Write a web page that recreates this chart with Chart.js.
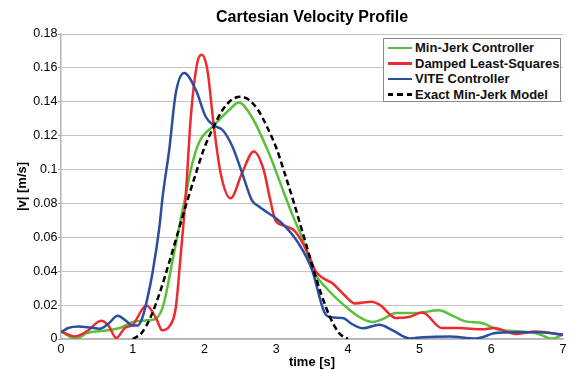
<!DOCTYPE html>
<html>
<head>
<meta charset="utf-8">
<script src="https://cdn.jsdelivr.net/npm/chart.js@4/dist/chart.umd.min.js"></script>
<style>
    html, body { margin: 0; padding: 0; background: #fff; }
    #wrap { position: relative; width: 570px; height: 370px; font-family: "Liberation Sans", Arial, sans-serif; }
    #legend {
        position: absolute; left: 383px; top: 38px; width: 178px; height: 64px;
        border: 1px solid #8a8a8a; background: #fff; box-sizing: border-box; padding-top: 1px;
    }
    .legend-row { display: flex; align-items: center; height: 15.6px; font-weight: bold; font-size: 13px; color: #111; white-space: nowrap; }
    .legend-line { width: 24px; height: 2.5px; margin-left: 4px; margin-right: 3px; }
</style>
</head>
<body>
<div id="wrap">
    <canvas id="velocityChart" width="570" height="370"></canvas>
    <div id="legend"></div>
</div>
<script>
// --- Data (time in s, speed in m/s) ---
const seriesLabels = ['Min-Jerk Controller', 'Damped Least-Squares', 'VITE Controller', 'Exact Min-Jerk Model'];
const xTicks = [0, 1, 2, 3, 4, 5, 6, 7];
const yTicks = [0, 0.02, 0.04, 0.06, 0.08, 0.1, 0.12, 0.14, 0.16, 0.18];

const minJerkTime = [0, 0.1, 0.2, 0.36, 0.63, 0.82, 1.0, 1.19, 1.3, 1.42, 1.555, 1.67, 1.74, 1.81, 1.925, 2.13, 2.34, 2.48, 2.66, 2.895, 3.12, 3.22, 3.36, 3.52, 3.68, 4.0, 4.2, 4.35, 4.5, 4.67, 4.95, 5.27, 5.45, 5.64, 5.87, 6.1, 6.43, 6.66, 6.84, 7.0];
const minJerkVel = [0.0045, 0.002, 0.0, 0.0035, 0.005, 0.0065, 0.010, 0.011, 0.0115, 0.019, 0.046, 0.071, 0.085, 0.100, 0.116, 0.126, 0.135, 0.1396, 0.131, 0.110, 0.085, 0.074, 0.060, 0.040, 0.031, 0.018, 0.012, 0.010, 0.012, 0.0153, 0.0153, 0.017, 0.014, 0.0104, 0.0094, 0.0055, 0.0045, 0.003, 0.0002, 0.0025];

const dlsTime = [0, 0.19, 0.36, 0.56, 0.66, 0.77, 0.89, 1.0, 1.19, 1.325, 1.41, 1.51, 1.6, 1.67, 1.74, 1.81, 1.9, 1.962, 2.04, 2.13, 2.225, 2.364, 2.525, 2.687, 2.825, 2.918, 2.99, 3.1, 3.264, 3.45, 3.55, 3.65, 3.78, 3.95, 4.1, 4.33, 4.45, 4.67, 4.85, 5.04, 5.31, 5.55, 5.87, 6.04, 6.33, 6.62, 7.0];
const dlsVel = [0.0045, 0.0015, 0.0045, 0.0108, 0.008, 0.0006, 0.0065, 0.0084, 0.0197, 0.0124, 0.0051, 0.0074, 0.0183, 0.050, 0.085, 0.131, 0.163, 0.1677, 0.159, 0.126, 0.098, 0.083, 0.098, 0.1107, 0.100, 0.082, 0.070, 0.067, 0.0635, 0.050, 0.040, 0.036, 0.033, 0.026, 0.021, 0.022, 0.020, 0.0124, 0.013, 0.0157, 0.0065, 0.0065, 0.0057, 0.0065, 0.003, 0.0045, 0.0025];

const viteTime = [0, 0.1, 0.24, 0.4, 0.54, 0.66, 0.79, 0.9, 1.0, 1.07, 1.14, 1.21, 1.28, 1.37, 1.42, 1.51, 1.6, 1.717, 1.88, 2.02, 2.13, 2.25, 2.39, 2.525, 2.66, 2.756, 3.079, 3.31, 3.5, 3.67, 3.77, 3.93, 4.05, 4.21, 4.44, 4.63, 4.86, 5.04, 5.41, 5.78, 6.06, 6.33, 6.66, 7.0];
const viteVel = [0.004, 0.0065, 0.0074, 0.0068, 0.006, 0.009, 0.0137, 0.011, 0.008, 0.008, 0.0133, 0.025, 0.040, 0.0655, 0.085, 0.112, 0.145, 0.157, 0.147, 0.131, 0.126, 0.1235, 0.1136, 0.098, 0.082, 0.0783, 0.0684, 0.0566, 0.0409, 0.016, 0.0128, 0.0124, 0.009, 0.0063, 0.0084, 0.005, 0.0003, 0.001, 0.0015, 0.0003, 0.0035, 0.004, 0.004, 0.0025];

const modelTime = [1.0, 1.125, 1.25, 1.375, 1.5, 1.625, 1.75, 1.875, 2.0, 2.125, 2.25, 2.375, 2.5, 2.625, 2.75, 2.875, 3.0, 3.125, 3.25, 3.375, 3.5, 3.625, 3.75, 3.875, 4.0];
const modelVel = [0, 0.0036, 0.013, 0.027, 0.044, 0.062, 0.080, 0.097, 0.113, 0.125, 0.135, 0.141, 0.143, 0.141, 0.135, 0.125, 0.113, 0.097, 0.080, 0.062, 0.044, 0.027, 0.013, 0.0036, 0];

const lineColors = ['#5cbf3c', '#ee2a2e', '#2c4ea0', '#000000'];

// --- Helpers ---
function toPoints(times, values) {
    return times.map((t, i) => ({ x: t, y: values[i] }));
}

const FONT = '"Liberation Sans", Arial, sans-serif';

const datasets = [
    { label: seriesLabels[0], data: toPoints(minJerkTime, minJerkVel), borderColor: lineColors[0], order: 3 },
    { label: seriesLabels[1], data: toPoints(dlsTime, dlsVel), borderColor: lineColors[1], order: 2 },
    { label: seriesLabels[2], data: toPoints(viteTime, viteVel), borderColor: lineColors[2], order: 1 },
    { label: seriesLabels[3], data: toPoints(modelTime, modelVel), borderColor: lineColors[3], borderDash: [6, 3.5], order: 0 }
].map(ds => Object.assign({
    borderWidth: 2.5,
    pointRadius: 0,
    fill: false,
    cubicInterpolationMode: 'monotone'
}, ds));

const chart = new Chart(document.getElementById('velocityChart'), {
    type: 'line',
    data: { datasets: datasets },
    options: {
        responsive: false,
        animation: false,
        layout: { padding: { left: 0, right: 4, top: 0, bottom: 0 } },
        plugins: {
            legend: { display: false },
            tooltip: { enabled: false },
            title: {
                display: true,
                text: 'Cartesian Velocity Profile',
                fullSize: false,
                color: '#000',
                font: { family: FONT, size: 16, weight: 'bold' },
                padding: { top: 7.5, bottom: 7.3 }
            }
        },
        scales: {
            x: {
                type: 'linear',
                min: 0,
                max: 7,
                afterBuildTicks: axis => { axis.ticks = xTicks.map(v => ({ value: v })); },
                afterFit: axis => { axis.height = 31; },
                ticks: { color: '#000', padding: 3.5, font: { family: FONT, size: 12.5 } },
                grid: { drawOnChartArea: false, drawTicks: false },
                border: { display: true, color: '#b4b4b4', width: 1.5 },
                title: {
                    display: true,
                    text: 'time [s]',
                    color: '#000',
                    font: { family: FONT, size: 13, weight: 'bold' },
                    padding: { top: 0, bottom: 0 }
                }
            },
            y: {
                min: 0,
                max: 0.18,
                afterBuildTicks: axis => { axis.ticks = yTicks.map(v => ({ value: v })); },
                afterFit: axis => { axis.width = 61; },
                ticks: {
                    color: '#000',
                    padding: 0.5,
                    font: { family: FONT, size: 12.5 },
                    callback: v => String(+v.toFixed(2))
                },
                grid: {
                    color: '#c4c4c4',
                    lineWidth: 1,
                    borderDash: [1, 2.5],
                    tickLength: 3,
                    tickColor: '#999',
                    tickBorderDash: [],
                    tickWidth: 1
                },
                border: { display: true, color: '#b4b4b4', width: 1.5 },
                title: {
                    display: true,
                    text: '|v| [m/s]',
                    color: '#000',
                    font: { family: FONT, size: 13, weight: 'bold' },
                    padding: { top: 15, bottom: 0 }
                }
            }
        }
    }
});

// --- HTML legend built from the datasets ---
const legendEl = document.getElementById('legend');
chart.data.datasets.forEach(ds => {
    const row = document.createElement('div');
    row.className = 'legend-row';
    const sample = document.createElement('span');
    sample.className = 'legend-line';
    if (ds.borderDash) {
        sample.style.background = `repeating-linear-gradient(90deg, ${ds.borderColor} 0 5.5px, transparent 5.5px 9.5px)`;
    } else {
        sample.style.background = ds.borderColor;
    }
    const text = document.createElement('span');
    text.textContent = ds.label;
    row.appendChild(sample);
    row.appendChild(text);
    legendEl.appendChild(row);
});
</script>
</body>
</html>
